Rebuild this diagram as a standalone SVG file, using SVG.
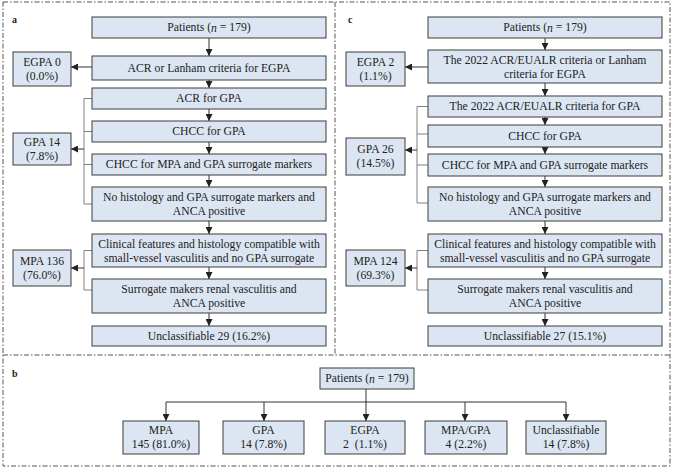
<svg xmlns="http://www.w3.org/2000/svg" width="676" height="470" viewBox="0 0 676 470">
<style>
.bg{fill:#ffffff}
.frame{fill:none;stroke:#555555;stroke-width:1;stroke-dasharray:5 2 1.5 2}
.box{fill:#dce6f2;stroke:#3c3c3c;stroke-width:1}
.t{font-family:"Liberation Serif","Times New Roman",serif;font-size:11.7px;fill:#222222;text-anchor:middle;dominant-baseline:central}
.lbl{font-family:"Liberation Serif","Times New Roman",serif;font-size:10px;font-weight:bold;fill:#222222}
.arr{fill:none;stroke:#333333;stroke-width:1;marker-end:url(#ah)}
.br{fill:none;stroke:#808080;stroke-width:1}
</style>
<defs>
<marker id="ah" viewBox="0 0 10 10" refX="10" refY="5" markerWidth="7" markerHeight="7" markerUnits="userSpaceOnUse" orient="auto">
<path d="M0,0 L10,5 L0,10 z" fill="#222222"/>
</marker>
</defs>
<rect class="bg" x="0" y="0" width="676" height="470"/>
<g id="frames">
<rect class="frame" x="3" y="2" width="667" height="464"/>
<line class="frame" x1="335" y1="2" x2="335" y2="355"/>
<line class="frame" x1="3" y1="355" x2="670" y2="355"/>
<text class="lbl" x="12" y="23">a</text>
<text class="lbl" x="348" y="23">c</text>
<text class="lbl" x="12" y="377">b</text>
</g>
<g id="connectors">
<!-- panel a -->
<line class="arr" x1="209" y1="38" x2="209" y2="56"/>
<line class="arr" x1="209" y1="80" x2="209" y2="88"/>
<line class="arr" x1="209" y1="109" x2="209" y2="121"/>
<line class="arr" x1="209" y1="142" x2="209" y2="154"/>
<line class="arr" x1="209" y1="175" x2="209" y2="187"/>
<line class="arr" x1="209" y1="221" x2="209" y2="234"/>
<line class="arr" x1="209" y1="267" x2="209" y2="279"/>
<line class="arr" x1="209" y1="313" x2="209" y2="326"/>
<line class="arr" x1="92" y1="67" x2="71" y2="67"/>
<path class="br" d="M92,98.5 H84 V204 H92 M84,131.5 H92 M84,164.5 H92"/>
<line class="arr" x1="84" y1="149" x2="71" y2="149"/>
<path class="br" d="M92,250.5 H84 V290 H92"/>
<line class="arr" x1="84" y1="268" x2="71" y2="268"/>
<!-- panel c -->
<line class="arr" x1="545" y1="38" x2="545" y2="50"/>
<line class="arr" x1="545" y1="83" x2="545" y2="96"/>
<line class="arr" x1="545" y1="117" x2="545" y2="125"/>
<line class="arr" x1="545" y1="147" x2="545" y2="154"/>
<line class="arr" x1="545" y1="176" x2="545" y2="187"/>
<line class="arr" x1="545" y1="221" x2="545" y2="234"/>
<line class="arr" x1="545" y1="267" x2="545" y2="279"/>
<line class="arr" x1="545" y1="313" x2="545" y2="326"/>
<line class="arr" x1="428" y1="67" x2="405" y2="67"/>
<path class="br" d="M428,106.5 H417 V203 H428 M417,134 H428 M417,165 H428"/>
<line class="arr" x1="417" y1="150" x2="405" y2="150"/>
<path class="br" d="M428,250.5 H417 V290 H428"/>
<line class="arr" x1="417" y1="268" x2="405" y2="268"/>
<!-- panel b -->
<path class="br" style="stroke:#333333" d="M366,389 V402 M166,402 H566"/>
<line class="arr" x1="166" y1="402" x2="166" y2="421"/>
<line class="arr" x1="264" y1="402" x2="264" y2="421"/>
<line class="arr" x1="366" y1="402" x2="366" y2="421"/>
<line class="arr" x1="465" y1="402" x2="465" y2="421"/>
<line class="arr" x1="566" y1="402" x2="566" y2="421"/>
</g>
<!-- panel a nodes -->
<g id="a-patients"><rect class="box" x="92" y="17" width="234" height="21"/><text class="t" x="209" y="27.5">Patients (<tspan font-style="italic">n</tspan> = 179)</text></g>
<g id="a-egpa-criteria"><rect class="box" x="92" y="56" width="234" height="24"/><text class="t" x="209" y="68">ACR or Lanham criteria for EGPA</text></g>
<g id="a-acr-gpa"><rect class="box" x="92" y="88" width="234" height="21"/><text class="t" x="209" y="98.5">ACR for GPA</text></g>
<g id="a-chcc-gpa"><rect class="box" x="92" y="121" width="234" height="21"/><text class="t" x="209" y="131.5">CHCC for GPA</text></g>
<g id="a-chcc-mpa"><rect class="box" x="92" y="154" width="234" height="21"/><text class="t" x="209" y="164.5">CHCC for MPA and GPA surrogate markers</text></g>
<g id="a-nohist"><rect class="box" x="92" y="187" width="234" height="34"/><text class="t" x="209" y="197.5">No histology and GPA surrogate markers and</text><text class="t" x="209" y="211.5">ANCA positive</text></g>
<g id="a-clinical"><rect class="box" x="92" y="234" width="234" height="33"/><text class="t" x="209" y="244">Clinical features and histology compatible with</text><text class="t" x="209" y="258">small-vessel vasculitis and no GPA surrogate</text></g>
<g id="a-surrogate"><rect class="box" x="92" y="279" width="234" height="34"/><text class="t" x="209" y="289.5">Surrogate makers renal vasculitis and</text><text class="t" x="209" y="303.5">ANCA positive</text></g>
<g id="a-unclass"><rect class="box" x="92" y="326" width="234" height="20"/><text class="t" x="209" y="336">Unclassifiable 29 (16.2%)</text></g>
<g id="a-egpa"><rect class="box" x="13" y="52" width="58" height="34"/><text class="t" x="42" y="62">EGPA 0</text><text class="t" x="42" y="76">(0.0%)</text></g>
<g id="a-gpa"><rect class="box" x="13" y="133" width="58" height="32"/><text class="t" x="42" y="142.5">GPA 14</text><text class="t" x="42" y="156.5">(7.8%)</text></g>
<g id="a-mpa"><rect class="box" x="13" y="250" width="58" height="36"/><text class="t" x="42" y="261">MPA 136</text><text class="t" x="42" y="275">(76.0%)</text></g>
<!-- panel c nodes -->
<g id="c-patients"><rect class="box" x="428" y="17" width="234" height="21"/><text class="t" x="545" y="27.5">Patients (<tspan font-style="italic">n</tspan> = 179)</text></g>
<g id="c-egpa-criteria"><rect class="box" x="428" y="50" width="234" height="33"/><text class="t" x="545" y="60">The 2022 ACR/EUALR criteria or Lanham</text><text class="t" x="545" y="74">criteria for EGPA</text></g>
<g id="c-acr-gpa"><rect class="box" x="428" y="96" width="234" height="21"/><text class="t" x="545" y="106.5">The 2022 ACR/EUALR criteria for GPA</text></g>
<g id="c-chcc-gpa"><rect class="box" x="428" y="125" width="234" height="22"/><text class="t" x="545" y="136">CHCC for GPA</text></g>
<g id="c-chcc-mpa"><rect class="box" x="428" y="154" width="234" height="22"/><text class="t" x="545" y="165">CHCC for MPA and GPA surrogate markers</text></g>
<g id="c-nohist"><rect class="box" x="428" y="187" width="234" height="34"/><text class="t" x="545" y="197.5">No histology and GPA surrogate markers and</text><text class="t" x="545" y="211.5">ANCA positive</text></g>
<g id="c-clinical"><rect class="box" x="428" y="234" width="234" height="33"/><text class="t" x="545" y="244">Clinical features and histology compatible with</text><text class="t" x="545" y="258">small-vessel vasculitis and no GPA surrogate</text></g>
<g id="c-surrogate"><rect class="box" x="428" y="279" width="234" height="34"/><text class="t" x="545" y="289.5">Surrogate makers renal vasculitis and</text><text class="t" x="545" y="303.5">ANCA positive</text></g>
<g id="c-unclass"><rect class="box" x="428" y="326" width="234" height="20"/><text class="t" x="545" y="336">Unclassifiable 27 (15.1%)</text></g>
<g id="c-egpa"><rect class="box" x="346" y="52" width="59" height="34"/><text class="t" x="375.5" y="62">EGPA 2</text><text class="t" x="375.5" y="76">(1.1%)</text></g>
<g id="c-gpa"><rect class="box" x="346" y="138" width="59" height="37"/><text class="t" x="375.5" y="149.5">GPA 26</text><text class="t" x="375.5" y="163.5">(14.5%)</text></g>
<g id="c-mpa"><rect class="box" x="346" y="250" width="59" height="36"/><text class="t" x="375.5" y="261">MPA 124</text><text class="t" x="375.5" y="275">(69.3%)</text></g>
<!-- panel b nodes -->
<g id="b-patients"><rect class="box" x="320" y="368" width="94" height="21"/><text class="t" x="367" y="378.5">Patients (<tspan font-style="italic">n</tspan> = 179)</text></g>
<g id="b-mpa"><rect class="box" x="123" y="421" width="76" height="33"/><text class="t" x="161" y="430.5">MPA</text><text class="t" x="161" y="444">145 (81.0%)</text></g>
<g id="b-gpa"><rect class="box" x="223" y="421" width="81" height="33"/><text class="t" x="263.5" y="430.5">GPA</text><text class="t" x="263.5" y="444">14 (7.8%)</text></g>
<g id="b-egpa"><rect class="box" x="325" y="421" width="80" height="33"/><text class="t" x="365" y="430.5">EGPA</text><text class="t" x="365" y="444" xml:space="preserve">2  (1.1%)</text></g>
<g id="b-mpagpa"><rect class="box" x="425" y="421" width="82" height="33"/><text class="t" x="466" y="430.5">MPA/GPA</text><text class="t" x="466" y="444">4 (2.2%)</text></g>
<g id="b-unclass"><rect class="box" x="526" y="421" width="80" height="33"/><text class="t" x="566" y="430.5">Unclassifiable</text><text class="t" x="566" y="444">14 (7.8%)</text></g>
</svg>
